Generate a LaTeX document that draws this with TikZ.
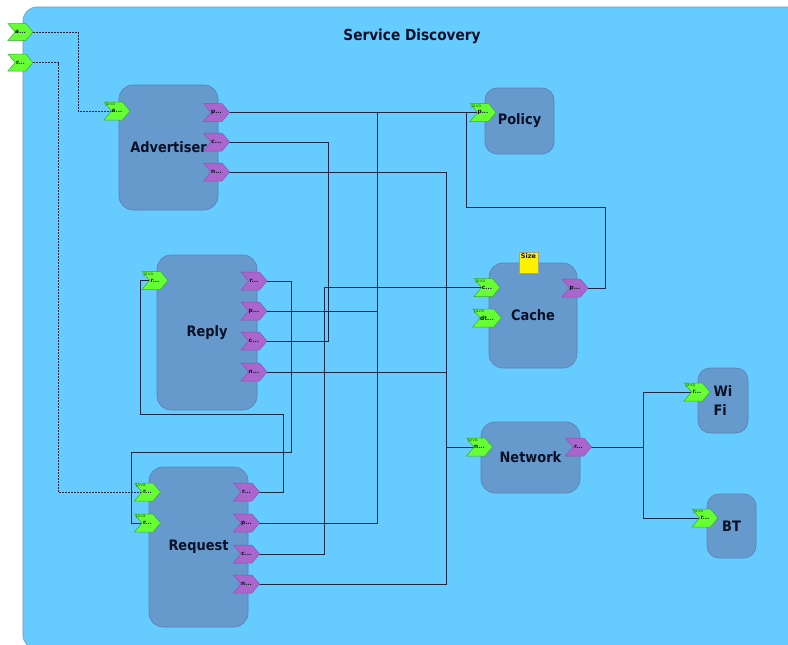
\documentclass[tikz,border=0pt]{standalone}
\usepackage{fontspec}
\setmainfont{DejaVu Sans}
\newfontfamily\lblfont[FakeStretch=0.9]{DejaVu Sans}
\usetikzlibrary{shapes.symbols,calc}
\definecolor{bgblue}{HTML}{66CCFF}
\definecolor{bgborder}{HTML}{6F97B5}
\definecolor{blockfill}{HTML}{6699CC}
\definecolor{blockborder}{HTML}{5A80B2}
\definecolor{gfill}{HTML}{66FF33}
\definecolor{gborder}{HTML}{3AA53A}
\definecolor{pfill}{HTML}{AA66CC}
\definecolor{pborder}{HTML}{8A55AA}
\definecolor{wirec}{HTML}{1B2845}
\definecolor{txt}{HTML}{0A1026}
\definecolor{javac}{HTML}{1E6A1E}
\pgfdeclarelayer{bg}
\pgfdeclarelayer{wires}
\pgfsetlayers{bg,wires,main}
\tikzset{
  block/.style={draw=blockborder, fill=blockfill, line width=0.6pt, rounded corners=14pt,
    inner sep=0pt, text=txt, font=\lblfont\bfseries\fontsize{14.4}{19}\selectfont},
  portbase/.style={signal, signal to=east, signal from=west, signal pointer angle=100,
    minimum width=26pt, minimum height=18pt, inner sep=0pt, line width=0.5pt,
    text=txt, font=\bfseries\fontsize{5.8}{6}\selectfont},
  gport/.style={portbase, fill=gfill, draw=gborder},
  jport/.style={gport, label={[anchor=north west, inner sep=0pt, xshift=2pt, yshift=-0.5pt,
    text=javac, font=\fontsize{4.5}{4.5}\selectfont]north west:Java}},
  pport/.style={portbase, fill=pfill, draw=pborder},
  wire/.style={draw=wirec, line width=0.75pt},
  dwire/.style={wire, dash pattern=on 2pt off 1pt},
  titlestyle/.style={text=txt, font=\lblfont\bfseries\fontsize{15.2}{18}\selectfont},
  sizebox/.style={draw=gray!80!yellow, fill=yellow, minimum width=19pt, minimum height=21pt,
    inner sep=0pt, text=txt, font=\bfseries\fontsize{6.5}{7}\selectfont, align=center}
}
\begin{document}
\begin{tikzpicture}[x=1pt,y=-1pt]
\useasboundingbox (0,0) rectangle (788,645);
\begin{pgfonlayer}{bg}
  \path[fill=bgblue, draw=bgborder, line width=0.6pt, rounded corners=14pt] (23,7) rectangle (812,649);
\end{pgfonlayer}

\node[titlestyle] (ttl) at (412,36) {Service Discovery};

% blocks
\node[block, minimum width=99pt, minimum height=125pt] (adv) at (168.5,147.5) {Advertiser};
\node[block, minimum width=69pt, minimum height=66pt, rounded corners=12pt] (pol) at (519.5,121) {Policy};
\node[block, minimum width=88pt, minimum height=105pt] (cache) at (533,315.5) {Cache};
\node[block, minimum width=100pt, minimum height=155pt] (rep) at (207,332.5) {Reply};
\node[block, minimum width=99pt, minimum height=160pt] (req) at (198.5,547) {Request};
\node[block, minimum width=99pt, minimum height=71pt] (net) at (530.5,457.5) {Network};
\node[block, minimum width=50pt, minimum height=65pt, rounded corners=12pt, align=left] (wifi) at (723,400.5) {Wi\\Fi};
\node[block, minimum width=49pt, minimum height=64pt, rounded corners=12pt] (bt) at (731.5,526) {BT};
\node[sizebox, anchor=north] (size) at (528.5,252) {Size\\[6pt]};

% ports
\node[gport, minimum width=25pt, minimum height=17pt] (oa) at (20.5,32) {a...};
\node[gport, minimum width=25pt, minimum height=17pt] (or) at (20.5,62.5) {r...};
\node[jport] (advIn) at (117,111) {a...};
\node[pport] (advP) at (216.5,112.5) {p...};
\node[pport] (advC) at (216.5,142) {c...};
\node[pport] (advN) at (216.5,172) {n...};
\node[jport] (polIn) at (483,112.5) {p...};
\node[jport] (cacheC) at (487,287.5) {c...};
\node[jport] (cacheDt) at (487,318) {dt...};
\node[pport] (cacheP) at (575,288) {p...};
\node[jport] (repIn) at (155,280.5) {r...};
\node[pport] (repR) at (254,281) {r...};
\node[pport] (repP) at (254,311) {p...};
\node[pport] (repC) at (254,341) {c...};
\node[pport] (repN) at (254,372) {n...};
\node[jport] (reqIn1) at (147.5,492) {r...};
\node[jport] (reqIn2) at (147.5,523) {r...};
\node[pport] (reqR) at (246.5,492) {r...};
\node[pport] (reqP) at (246.5,523) {p...};
\node[pport] (reqC) at (246.5,554) {c...};
\node[pport] (reqN) at (246.5,584) {n...};
\node[jport] (netIn) at (479.5,447) {n...};
\node[pport] (netR) at (578.5,447) {r...};
\node[jport] (wifiIn) at (697,392) {r...};
\node[jport] (btIn) at (705,518) {r...};

\coordinate (pbus) at (377,112.5);
\coordinate (nbus) at (643,447);

\begin{pgfonlayer}{wires}
  \draw[dwire] (oa.center) -- (78,32) |- (advIn.center);
  \draw[dwire] (or.center) -- (58,62.5) |- (reqIn1.center);
  \draw[wire] (advP.center) -- (polIn.center);
  \draw[wire] (reqP.center) -| (pbus);
  \draw[wire] (repP.center) -- (repP.center -| pbus);
  \draw[wire] (cacheP.center) -| (605,207) -| (466,112.5) -- (polIn.center);
  \draw[wire] (advC.center) -| (328,341) -- (repC.center);
  \draw[wire] (cacheC.center) -| (324,554) -- (reqC.center);
  \draw[wire] (advN.center) -| (446,584) -- (reqN.center);
  \draw[wire] (repN.center) -- (446,372);
  \draw[wire] (netIn.center) -- (446,447);
  \draw[wire] (repR.center) -| (291,452) -| (131,523) -- (reqIn2.center);
  \draw[wire] (reqR.center) -| (283,414) -| (140,280.5) -- (repIn.center);
  \draw[wire] (netR.center) -- (nbus);
  \draw[wire] (nbus) |- (wifiIn.center);
  \draw[wire] (nbus) |- (btIn.center);
\end{pgfonlayer}
\end{tikzpicture}
\end{document}
